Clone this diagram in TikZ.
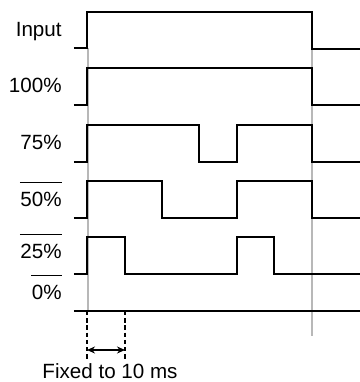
\documentclass[tikz,border=0pt]{standalone}
\usepackage{fontspec}
\setmainfont{Liberation Sans}
\usetikzlibrary{arrows.meta}
\begin{document}
\begin{tikzpicture}[x=0.5pt,y=-0.5pt,every node/.style={font=\fontsize{10.3}{12}\selectfont},
    lbl/.style={anchor=base east,inner sep=0pt},
    wave/.style={line width=1.1pt,line join=miter},
    guide/.style={draw=black!28,line width=0.75pt},
    bar/.style={line width=0.55pt},
    dashline/.style={line width=1.1pt,dash pattern=on 2.2pt off 1.4pt},
    span/.style={{Stealth[length=4pt,width=3.5pt]}-{Stealth[length=4pt,width=3.5pt]},line width=0.9pt}]
    \useasboundingbox (0,0) rectangle (360,382);
    % guide lines
    \coordinate (g1) at (88,48);
    \coordinate (g2) at (88,311);
    \coordinate (g3) at (312,49);
    \coordinate (g4) at (312,336);
    \draw[guide] (g1) -- (g2);
    \draw[guide] (g3) -- (g4);
    % signals
    \draw[wave] (74,48) -- (87,48) -- (87,12) -- (312,12) -- (312,49) -- (360,49);
    \draw[wave] (74,105) -- (87,105) -- (87,68) -- (312,68) -- (312,105) -- (360,105);
    \draw[wave] (74,162) -- (87,162) -- (87,125) -- (199,125) -- (199,162) -- (237,162) -- (237,125) -- (312,125) -- (312,162) -- (360,162);
    \draw[wave] (74,218) -- (87,218) -- (87,181) -- (162,181) -- (162,218) -- (237,218) -- (237,181) -- (312,181) -- (312,218) -- (360,218);
    \draw[wave] (74,274) -- (87,274) -- (87,237) -- (125,237) -- (125,274) -- (237,274) -- (237,237) -- (274,237) -- (274,274) -- (360,274);
    \draw[wave] (74,311) -- (360,311);
    % labels
    \node[lbl] (lin) at (62,36) {Input};
    \node[lbl] (l100) at (62,92) {100\%};
    \node[lbl] (l75) at (62,149) {75\%};
    \node[lbl] (l50) at (62,206) {50\%};
    \node[lbl] (l25) at (62,258) {25\%};
    \node[lbl] (l0) at (62,299) {0\%};
    \foreach \n in {l50,l25,l0}
      \draw[bar] ([yshift=4.2pt]\n.north west) -- ([yshift=4.2pt]\n.north east);
    % fixed interval
    \coordinate (d1) at (87,311);
    \coordinate (d2) at (87,360);
    \coordinate (d3) at (125,311);
    \coordinate (d4) at (125,360);
    \coordinate (a1) at (87,350);
    \coordinate (a2) at (125,350);
    \draw[dashline] (d1) -- (d2);
    \draw[dashline] (d3) -- (d4);
    \draw[span] (a1) -- (a2);
    \node[anchor=base,inner sep=0pt] (fix) at (110,378) {Fixed to 10 ms};
\end{tikzpicture}
\end{document}
